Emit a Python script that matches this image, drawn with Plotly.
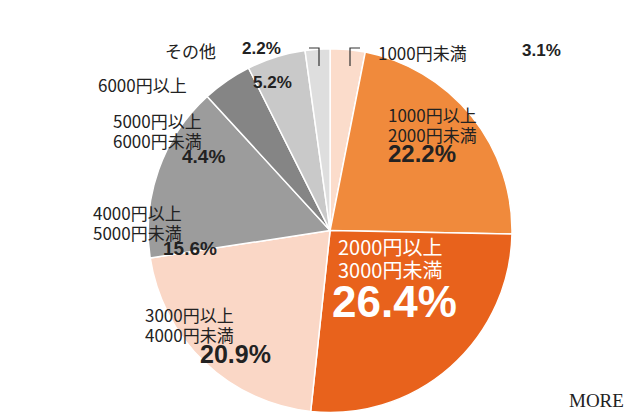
import plotly.graph_objects as go

categories = ["1000円未満", "1000円以上<br>2000円未満", "2000円以上<br>3000円未満", "3000円以上<br>4000円未満",
              "4000円以上<br>5000円未満", "5000円以上<br>6000円未満", "6000円以上", "その他"]
values = [3.1, 22.2, 26.4, 20.9, 15.6, 4.4, 5.2, 2.2]
colors = ["#FBDCCB", "#F08A3C", "#E8621C", "#FAD7C6", "#9C9C9C", "#858585", "#C9C9C9", "#DEDEDE"]

fig = go.Figure(go.Pie(
    labels=categories, values=values, sort=False, direction="clockwise", rotation=0,
    marker=dict(colors=colors, line=dict(color="white", width=1.5)),
    textinfo="none", hoverinfo="label+percent", showlegend=False,
    domain=dict(x=[0.219, 0.7875], y=[0.031, 0.904]),
))

F = "Noto Sans CJK JP"
B = "Liberation Sans Narrow, Arial Narrow, sans-serif"
def txt(x, y, t, size, col="#222", fam=F, bold=False):
    if bold:
        t = f"<b>{t}</b>"
    fig.add_annotation(x=x/640, y=1-y/418, xref="paper", yref="paper", text=t, showarrow=False,
                       xanchor="left", yanchor="top", align="left",
                       font=dict(size=size, color=col, family=fam))

def lab(x, y, name, val, size=18, vsize=22, col="#222", inline=False, vx=None):
    lines = name.split("<br>")
    for i, l in enumerate(lines):
        txt(x, y + i * size * 1.15, l, size, col)
    if inline:
        txt(vx, y + 1, val, size, col, B, True)
    else:
        txt(x if vx is None else vx, y + len(lines) * size * 1.15 - 1, val, vsize, col, B, True)

lab(368, 30, "1000円未満", "3.1%", size=17, inline=True, vx=512)
lab(378, 92, "1000円以上<br>2000円未満", "22.2%", size=17, vsize=24)
lab(328, 222, "2000円以上<br>3000円未満", "26.4%", size=20, vsize=44, col="white", vx=322)
lab(135, 292, "3000円以上<br>4000円未満", "20.9%", size=17, vsize=25, vx=190)
lab(83, 190, "4000円以上<br>5000円未満", "15.6%", size=17, vsize=19, vx=153)
lab(103, 98, "5000円以上<br>6000円未満", "4.4%", size=17, vsize=19, vx=172)
lab(88, 62, "6000円以上", "5.2%", size=17, inline=True, vx=243)
lab(155, 28, "その他", "2.2%", size=17, inline=True, vx=232)

for pts in [[(342, 58), (342, 40), (352, 40)], [(311, 58), (311, 40), (301, 40)]]:
    path = "M " + " L ".join(f"{x/640} {1-y/418}" for x, y in pts)
    fig.add_shape(type="path", path=path, xref="paper", yref="paper", line=dict(color="#333", width=1.2))

fig.add_annotation(x=0.965, y=0.03, xref="paper", yref="paper", text="MORE", showarrow=False,
                   xanchor="right", yanchor="bottom", font=dict(size=19, color="#222", family="Liberation Serif"))

fig.update_layout(width=640, height=418, margin=dict(l=0, r=0, t=0, b=0),
                  paper_bgcolor="white", plot_bgcolor="white")
fig.write_html("out.html")
